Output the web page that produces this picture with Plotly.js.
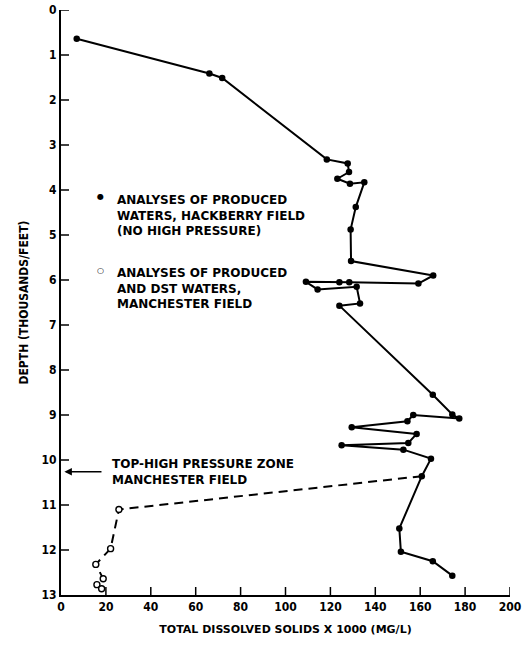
<!DOCTYPE html>
<html>
<head>
<meta charset="utf-8">
<script src="https://cdn.plot.ly/plotly-3.0.1.min.js"></script>
<style>html,body{margin:0;padding:0;background:#fff;}#chart{width:525px;height:655px;}</style>
</head>
<body>
<div id="chart"></div>
<script>
// Hackberry field (filled circles, solid line)
const hackTDS = [7.0, 66.1, 71.8, 118.4, 127.7, 128.3, 123.1, 128.7, 135.1, 131.3, 129.0, 129.2,
  165.8, 159.2, 128.4, 124.0, 109.1, 114.3, 131.7, 133.2, 124.0,
  165.6, 174.3, 177.4, 156.9, 154.3, 129.5, 158.4, 154.7, 125.0, 152.5, 164.8, 160.7,
  150.7, 151.4, 165.6, 174.3];
const hackDepth = [0.64, 1.41, 1.51, 3.32, 3.41, 3.60, 3.75, 3.86, 3.83, 4.38, 4.88, 5.58,
  5.90, 6.08, 6.05, 6.05, 6.04, 6.21, 6.15, 6.52, 6.57,
  8.55, 8.99, 9.08, 9.00, 9.14, 9.27, 9.42, 9.62, 9.67, 9.77, 9.97, 10.36,
  11.52, 12.04, 12.25, 12.57];
// Manchester field (open circles, dashed line)
const manTDS = [160.7, 25.8, 22.1, 15.5, 18.8, 16.0, 18.1];
const manDepth = [10.36, 11.10, 11.97, 12.32, 12.64, 12.77, 12.86];
const manOpen = [false, true, true, true, true, true, true];
const highPressureTop = 10.26;

const yTicks = [0,1,2,3,4,5,6,7,8,9,10,11,12,13];
const xTicks = [0,20,40,60,80,100,120,140,160,180,200];

const tickFont = {family: 'DejaVu Sans Condensed, DejaVu Sans, sans-serif', size: 12, color: '#000', weight: 700};
const txtFont = {family: 'DejaVu Sans, sans-serif', size: 12, color: '#000', weight: 700};

const manX = manTDS.filter((v,i)=>manOpen[i]);
const manY = manDepth.filter((v,i)=>manOpen[i]);

const traces = [
  {x: manTDS, y: manDepth, mode: 'lines', line: {color: '#000', width: 2, dash: '9px,6px'}, hoverinfo: 'skip'},
  {x: manX, y: manY, mode: 'markers', marker: {symbol: 'circle', size: 6, color: '#fff', line: {color: '#000', width: 1.4}}},
  {x: hackTDS, y: hackDepth, mode: 'lines+markers', line: {color: '#000', width: 2}, marker: {size: 6.5, color: '#000'}}
];

// inside tick marks built from the tick arrays (pixel-sized, anchored on the axes)
const tickShapes = [
  ...xTicks.filter(v => v > 0).map(v => ({type: 'line', xref: 'x', yref: 'y', ysizemode: 'pixel', yanchor: 13,
    x0: v, x1: v, y0: 0, y1: 8, line: {color: '#000', width: 1.5}})),
  ...yTicks.filter(v => v < 13).map(v => ({type: 'line', xref: 'x', yref: 'y', xsizemode: 'pixel', xanchor: 0,
    y0: v, y1: v, x0: 0, x1: 8, line: {color: '#000', width: 1.5}}))
];

const layout = {
  width: 525, height: 655,
  margin: {l: 61, r: 15, t: 10, b: 60},
  paper_bgcolor: '#fff', plot_bgcolor: '#fff',
  showlegend: false,
  shapes: tickShapes,
  xaxis: {
    range: [0, 200], tickmode: 'array', tickvals: xTicks, ticktext: xTicks.map(v => '<b>' + v + '</b>'),
    ticks: '', showline: true, linecolor: '#000', linewidth: 2, showgrid: false, zeroline: false,
    tickfont: tickFont,
    title: {text: 'TOTAL DISSOLVED SOLIDS X 1000 (MG/L)', font: {family: 'DejaVu Sans, sans-serif', size: 11, color: '#000', weight: 700}, standoff: 12}
  },
  yaxis: {
    range: [13, 0], tickmode: 'array', tickvals: yTicks, ticktext: yTicks.map(v => '<b>' + v + '</b>'),
    ticks: '', showline: true, linecolor: '#000', linewidth: 2, showgrid: false, zeroline: false,
    tickfont: tickFont,
    title: {text: 'DEPTH (THOUSANDS/FEET)', font: {family: 'DejaVu Sans Condensed, DejaVu Sans, sans-serif', size: 12, color: '#000', weight: 700}, standoff: 10}
  },
  annotations: [
    {xref: 'x', yref: 'y', x: 17.4, y: 4.14, text: '●', showarrow: false, font: {family: 'DejaVu Sans', size: 8, color: '#000'}},
    {xref: 'x', yref: 'y', x: 24, y: 4.57, xanchor: 'left', yanchor: 'middle', align: 'left', showarrow: false,
     text: 'ANALYSES OF PRODUCED<br>WATERS, HACKBERRY FIELD<br>(NO HIGH PRESSURE)', font: txtFont},
    {xref: 'x', yref: 'y', x: 17.4, y: 5.79, text: '○', showarrow: false, font: {family: 'DejaVu Sans', size: 8, color: '#000'}},
    {xref: 'x', yref: 'y', x: 24, y: 6.19, xanchor: 'left', yanchor: 'middle', align: 'left', showarrow: false,
     text: 'ANALYSES OF PRODUCED<br>AND DST WATERS,<br>MANCHESTER FIELD', font: txtFont},
    {xref: 'x', yref: 'y', x: 21.8, y: 10.27, xanchor: 'left', yanchor: 'middle', align: 'left', showarrow: false,
     text: 'TOP-HIGH PRESSURE ZONE<br>MANCHESTER FIELD', font: txtFont},
    {xref: 'x', yref: 'y', x: 1.5, y: highPressureTop, axref: 'x', ayref: 'y', ax: 18.7, ay: highPressureTop,
     text: '', showarrow: true, arrowhead: 2, arrowsize: 1, arrowwidth: 1.5, arrowcolor: '#000'}
  ]
};

Plotly.newPlot('chart', traces, layout, {displayModeBar: false});
</script>
</body>
</html>
